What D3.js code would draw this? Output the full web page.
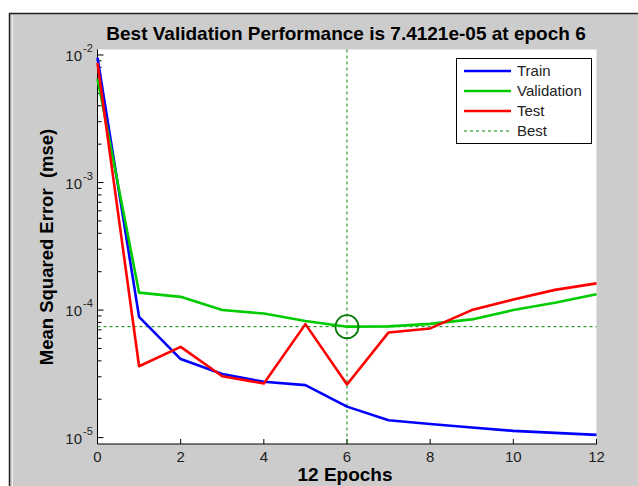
<!DOCTYPE html>
<html>
<head>
<meta charset="utf-8">
<script src="https://cdn.jsdelivr.net/npm/d3@7"></script>
<style>
  html, body { margin: 0; padding: 0; background: #fff; }
  svg { display: block; font-family: "Liberation Sans", Arial, sans-serif; }
</style>
</head>
<body>
<svg id="chart"></svg>
<script>
// values
const epochs = [0, 1, 2, 3, 4, 5, 6, 7, 8, 9, 10, 11, 12];
const trainPerf = [9.5e-3, 8.85e-5, 4.13e-5, 3.15e-5, 2.74e-5, 2.58e-5, 1.75e-5, 1.37e-5, 1.28e-5, 1.2e-5, 1.13e-5, 1.09e-5, 1.05e-5];
const valPerf = [6.5e-3, 1.37e-4, 1.27e-4, 1.0e-4, 9.4e-5, 8.2e-5, 7.4121e-5, 7.45e-5, 7.8e-5, 8.45e-5, 1.0e-4, 1.14e-4, 1.33e-4];
const testPerf = [8.65e-3, 3.63e-5, 5.15e-5, 3.03e-5, 2.66e-5, 7.76e-5, 2.61e-5, 6.68e-5, 7.18e-5, 1.0e-4, 1.21e-4, 1.44e-4, 1.62e-4];
const bestEpoch = 6;
const bestPerf = 7.4121e-5;
const xTicks = [0, 2, 4, 6, 8, 10, 12];
const yDecades = [-5, -4, -3, -2];
const seriesNames = ["Train", "Validation", "Test", "Best"];
const seriesColors = ["#0000ff", "#00cc00", "#ff0000", "#008000"];

const W = 638, H = 486;
const plot = { left: 97.5, right: 596.5, top: 49.5, bottom: 444 };

const svg = d3.select("#chart").attr("width", W).attr("height", H);

// figure background
svg.append("rect").attr("x", 9.5).attr("y", 13.5).attr("width", W).attr("height", H)
  .attr("fill", "#cccccc").attr("stroke", "#222").attr("stroke-width", 1.5);
svg.append("line").attr("x1", 12.5).attr("x2", 12.5).attr("y1", 15).attr("y2", H)
  .attr("stroke", "#eee").attr("stroke-width", 1);

const x = d3.scaleLinear().domain([0, 12]).range([plot.left, plot.right]);
const y = d3.scaleLog().domain([Math.pow(10, -5.05), Math.pow(10, -1.957)]).range([plot.bottom, plot.top]);

svg.append("rect")
  .attr("x", plot.left).attr("y", plot.top)
  .attr("width", plot.right - plot.left).attr("height", plot.bottom - plot.top)
  .attr("fill", "#fff");

// axes: left and bottom only, ticks inward
const gAx = svg.append("g").attr("stroke", "#000").attr("stroke-width", 1);
gAx.append("line").attr("x1", plot.left).attr("x2", plot.left).attr("y1", plot.top).attr("y2", plot.bottom);
gAx.append("line").attr("x1", plot.left).attr("x2", plot.right + 0.5).attr("y1", plot.bottom).attr("y2", plot.bottom);

xTicks.forEach(t => {
  gAx.append("line").attr("x1", x(t)).attr("x2", x(t)).attr("y1", plot.bottom).attr("y2", plot.bottom - 5);
});
svg.append("g").selectAll("text").data(xTicks).join("text")
  .attr("x", d => x(d)).attr("y", 462)
  .attr("text-anchor", "middle").attr("font-size", 15).attr("fill", "#222")
  .text(d => d);

yDecades.forEach(p => {
  const v = Math.pow(10, p);
  gAx.append("line").attr("x1", plot.left).attr("x2", plot.left + 6).attr("y1", y(v)).attr("y2", y(v));
  if (p < -2) {
    for (let m = 2; m <= 9; m++) {
      const mv = m * v;
      gAx.append("line").attr("x1", plot.left).attr("x2", plot.left + 4).attr("y1", y(mv)).attr("y2", y(mv));
    }
  }
  svg.append("text").attr("x", 82).attr("y", y(v) + 6)
    .attr("text-anchor", "end").attr("font-size", 15).attr("fill", "#222").text("10");
  svg.append("text").attr("x", 83).attr("y", y(v) - 3)
    .attr("font-size", 11).attr("fill", "#222").text(p);
});

// best markers
svg.append("line")
  .attr("x1", x(bestEpoch)).attr("x2", x(bestEpoch)).attr("y1", plot.top).attr("y2", plot.bottom)
  .attr("stroke", seriesColors[3]).attr("stroke-width", 1).attr("stroke-dasharray", "3,3");
svg.append("line")
  .attr("x1", plot.left).attr("x2", plot.right).attr("y1", y(bestPerf)).attr("y2", y(bestPerf))
  .attr("stroke", seriesColors[3]).attr("stroke-width", 1).attr("stroke-dasharray", "3,3");

const line = d3.line().x((d, i) => x(epochs[i])).y(d => y(d));
[trainPerf, valPerf, testPerf].forEach((s, i) => {
  svg.append("path").datum(s)
    .attr("d", line)
    .attr("fill", "none")
    .attr("stroke", seriesColors[i])
    .attr("stroke-width", 2.6)
    .attr("stroke-linejoin", "round");
});

svg.append("circle")
  .attr("cx", x(bestEpoch)).attr("cy", y(bestPerf)).attr("r", 11.5)
  .attr("fill", "none").attr("stroke", "#007a00").attr("stroke-width", 1.8);

// legend
const leg = svg.append("g");
leg.append("rect").attr("x", 456.5).attr("y", 58.5).attr("width", 135).attr("height", 85)
  .attr("fill", "#fff").attr("stroke", "#000").attr("stroke-width", 1);
seriesNames.forEach((n, i) => {
  const ly = 71 + i * 20;
  leg.append("line").attr("x1", 464).attr("x2", 511).attr("y1", ly).attr("y2", ly)
    .attr("stroke", seriesColors[i])
    .attr("stroke-width", i === 3 ? 1 : 2.6)
    .attr("stroke-dasharray", i === 3 ? "3,3" : null);
  leg.append("text").attr("x", 517).attr("y", ly + 5)
    .attr("font-size", 15).attr("fill", "#222").text(n);
});

// titles
svg.append("text").attr("x", 346).attr("y", 40)
  .attr("text-anchor", "middle").attr("font-size", 19).attr("font-weight", "bold").attr("fill", "#000")
  .text("Best Validation Performance is 7.4121e-05 at epoch 6");
svg.append("text").attr("x", 345).attr("y", 481)
  .attr("text-anchor", "middle").attr("font-size", 19).attr("font-weight", "bold").attr("fill", "#000")
  .text("12 Epochs");
svg.append("text")
  .attr("transform", "translate(53,247) rotate(-90)")
  .attr("text-anchor", "middle").attr("font-size", 18.5).attr("font-weight", "bold").attr("fill", "#000")
  .style("white-space", "pre")
  .text("Mean Squared Error  (mse)");
</script>
</body>
</html>
